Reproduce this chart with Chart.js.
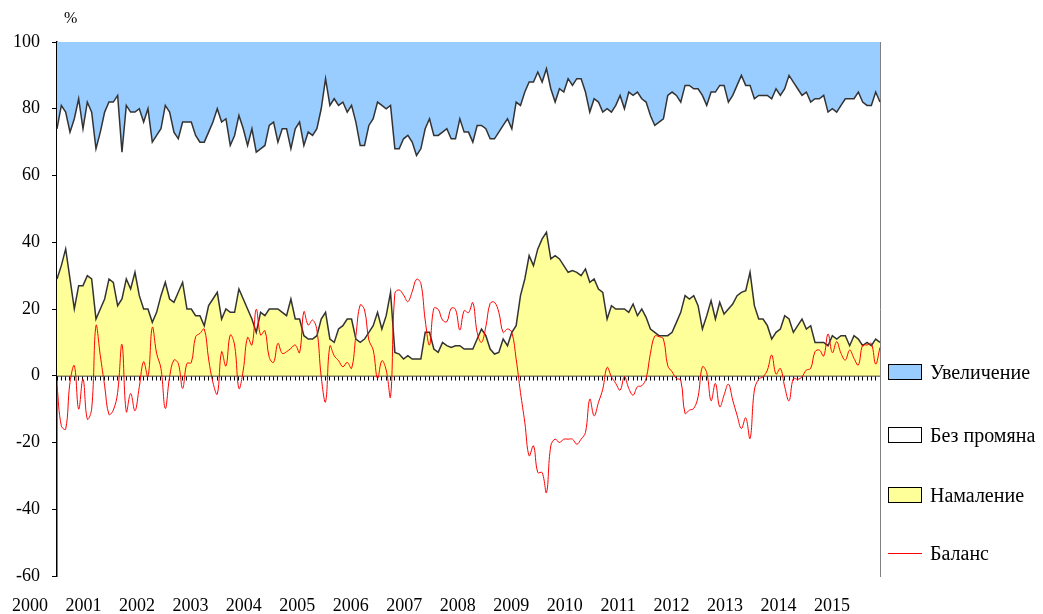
<!DOCTYPE html>
<html>
<head>
<meta charset="utf-8">
<script src="https://cdn.jsdelivr.net/npm/chart.js@4.4.0/dist/chart.umd.min.js"></script>
<style>
    body { margin: 0; background: #fff; }
    #wrap { position: relative; width: 1043px; height: 614px; }
    canvas { position: absolute; left: 0; top: 0; }
    .lbl { position: absolute; font-family: "Liberation Serif", "Times New Roman", serif; font-size: 20px; color: #000; line-height: 23px; white-space: nowrap; }
    .key { position: absolute; left: 888px; width: 34px; height: 16px; border: 1px solid #000; box-sizing: border-box; }
    .keyline { position: absolute; left: 888px; width: 34px; height: 0; border-top: 1px solid #ff0000; }
</style>
</head>
<body>
<div id="wrap">
    <canvas id="chart" width="1043" height="614"></canvas>
    <div class="lbl" style="left:64px; top:9px; font-size:16px; line-height:18px;">%</div>

    <div class="key" style="top:364px; background:#99CCFF;"></div>
    <div class="lbl" style="left:930px; top:361px;">Увеличение</div>

    <div class="key" style="top:427px; background:#FFFFFF;"></div>
    <div class="lbl" style="left:930px; top:424px;">Без промяна</div>

    <div class="key" style="top:487px; background:#FFFF99;"></div>
    <div class="lbl" style="left:930px; top:484px;">Намаление</div>

    <div class="keyline" style="top:553px;"></div>
    <div class="lbl" style="left:930px; top:542px;">Баланс</div>
</div>

<script>
// Години (етикети на оста X)
const years = ['2000', '2001', '2002', '2003', '2004', '2005', '2006', '2007',
               '2008', '2009', '2010', '2011', '2012', '2013', '2014', '2015'];

// Месечни данни, % от отговорите (януари 2000 - ноември 2015)
const decrease = [
    29, 33, 38, 29, 20, 27, 27, 30, 29, 17, 20, 23,
    29, 28, 21, 23, 29, 26, 31, 24, 20, 20, 16, 19,
    24, 28, 23, 22, 25, 28, 20, 20, 18, 18, 15, 21,
    23, 25, 17, 20, 19, 19, 26, 23, 20, 17, 13, 19,
    18, 20, 20, 20, 19, 18, 23, 17, 17, 12, 11, 11,
    12, 17, 19, 11, 10, 14, 15, 17, 17, 11, 10, 11,
    13, 15, 19, 14, 18, 25, 7, 6.5, 5, 6, 5, 5,
    5, 13, 13, 8, 7, 10, 9, 8.5, 9, 9, 8, 8,
    8, 11, 14, 12, 8, 6.5, 7, 11, 9, 13, 15, 24,
    29, 36, 33, 38, 41, 43, 35, 36, 35, 33, 31, 31.5,
    31, 30, 32, 28, 29, 26, 25, 17, 21, 20, 20, 20,
    19, 21.5, 18, 20, 17.5, 14, 13, 12, 12, 12, 13, 16,
    19, 24, 23, 24, 21, 14, 18, 22.5, 17, 22, 18.5, 20,
    21.5, 24, 25, 25.5, 31, 21, 17, 17, 15, 11, 13, 14,
    18, 17, 13, 15, 17, 14, 15, 10, 10, 10, 9, 12,
    11, 12, 12, 9, 12, 11, 9, 10, 9, 11, 10
];

const unchanged = [
    45, 48, 41, 44, 57, 56, 47, 52, 50, 51, 53, 56,
    53, 54, 63, 44, 52, 53, 48, 56, 56, 60, 54, 53,
    50, 53, 56, 51, 46, 48, 56, 56, 54, 52, 55, 52,
    53, 55, 59, 57, 50, 53, 52, 51, 49, 57, 54, 49,
    51, 55, 56, 50, 55, 56, 45, 57, 59, 57, 62, 61,
    62, 63, 70, 70, 73, 67, 67, 62, 64, 65, 59, 58,
    62, 62, 63, 67, 62, 56, 61, 61.5, 66, 66, 65, 61,
    63, 61, 64, 64, 65, 63, 65, 62.5, 62, 68, 65, 65,
    62, 64, 61, 62, 63, 64.5, 66, 64, 68, 61, 67, 57,
    56, 52, 55, 53, 47, 49, 51, 46, 51, 52, 58, 55.5,
    58, 59, 53, 51, 54, 56, 54, 63, 58, 61, 64, 60,
    66, 62.5, 67, 63, 64.5, 64, 62, 64, 65, 72, 72, 68,
    63, 63, 64, 62, 65, 70, 63, 62.5, 68, 65, 68.5, 62,
    62.5, 63, 65, 61.5, 56, 62, 67, 67, 69, 72, 73, 70,
    68, 73, 75, 71, 67, 71, 67, 73, 73, 74, 70, 68,
    68, 69, 71, 74, 71, 74, 73, 71, 72, 74, 72
];

const increase = [
    26, 19, 21, 27, 23, 17, 26, 18, 21, 32, 27, 21,
    18, 18, 16, 33, 19, 21, 21, 20, 24, 20, 30, 28,
    26, 19, 21, 27, 29, 24, 24, 24, 28, 30, 30, 27,
    24, 20, 24, 23, 31, 28, 22, 26, 31, 26, 33, 32,
    31, 25, 24, 30, 26, 26, 32, 26, 24, 31, 27, 28,
    26, 20, 11, 19, 17, 19, 18, 21, 19, 24, 31, 31,
    25, 23, 18, 19, 20, 19, 32, 32, 29, 28, 30, 34,
    32, 26, 23, 28, 28, 27, 26, 29, 29, 23, 27, 27,
    30, 25, 25, 26, 29, 29, 27, 25, 23, 26, 18, 19,
    15, 12, 12, 9, 12, 8, 14, 18, 14, 15, 11, 13,
    11, 11, 15, 21, 17, 18, 21, 20, 21, 19, 16, 20,
    15, 16, 15, 17, 18, 22, 25, 24, 23, 16, 15, 16,
    18, 13, 13, 14, 14, 16, 19, 15, 15, 13, 13, 18,
    16, 13, 10, 13, 13, 17, 16, 16, 16, 17, 14, 16,
    14, 10, 12, 14, 16, 15, 18, 17, 17, 16, 21, 20,
    21, 19, 17, 17, 17, 15, 18, 19, 19, 15, 18
];

const balance = [
    -3, -15, -16, -2, 3, -10, -1, -13, -10, 15, 6, -3,
    -11.6, -10.3, -5, 9.4, -10.8, -5.3, -10.5, -3.3, 4.2, -0.3, 14.5, 6.7,
    2.2, -9.8, -0.3, 4.7, 3.7, -3.8, 3.7, 3.9, 11.7, 12.7, 14, 5,
    -2, -5.5, 7.2, 2.9, 12.2, 9.2, -3.8, 1.7, 11.5, 9.2, 19.9, 12.2,
    13.5, 5.5, 4, 9.7, 6.7, 7.2, 8.2, 9.2, 6.9, 19.2, 15.2, 16.7,
    13.7, -0.3, -7.8, 8.9, 6, 4.5, 2.7, 4, 2.2, 12, 21.2, 19.7,
    10.7, 7.7, -0.8, 4.5, 1.7, -6.3, 24.7, 25.7, 24.2, 22.2, 25.2, 28.9,
    27.7, 16.7, 9.2, 20.2, 19.9, 16.7, 16.2, 20.2, 19.9, 13.7, 19.5, 18.9,
    21.9, 13, 10, 14.7, 21.7, 22, 19, 13, 14, 13, 5, -5,
    -14, -24, -21, -29, -29, -35, -21, -19, -20, -19, -19, -19,
    -20.5, -19, -17, -7, -12, -8, -4, 2.5, -0.3, -2.3, -4.3, -0.3,
    -3.8, -5.8, -3.3, -3, -0.8, 6.7, 11.9, 11.7, 11, 3, 1.2, -0.8,
    -1.3, -11.3, -10.3, -9.8, -6.3, 2.7, 0.9, -7.5, -2.3, -9.3, -5.8, -2.5,
    -7.3, -11.8, -15.8, -12.6, -18.8, -4.3, -1, -0.3, 1.7, 6.2, 0.5, 2.2,
    -3.3, -7.5, -0.8, -1.1, -0.3, 1.7, 2.2, 7.2, 7.7, 5.9, 12.5, 6.9,
    10.2, 6.7, 4.7, 7.7, 5.2, 3.2, 9.2, 9.2, 9.7, 3.5, 8.5
];

// Месеци - категории на оста
const months = decrease.map((_, i) => years[Math.floor(i / 12)] + '-' + (i % 12 + 1));

const fontFamily = '"Liberation Serif", "Times New Roman", serif';

const ctx = document.getElementById('chart').getContext('2d');
new Chart(ctx, {
    type: 'line',
    data: {
        labels: months,
        datasets: [
            {
                label: 'Намаление',
                data: decrease,
                stack: 'a',
                fill: 'origin',
                backgroundColor: '#FFFF99',
                borderColor: '#333333',
                borderWidth: 1.5,
                pointRadius: 0,
                tension: 0
            },
            {
                label: 'Без промяна',
                data: unchanged,
                stack: 'a',
                fill: '-1',
                backgroundColor: '#FFFFFF',
                borderColor: '#333333',
                borderWidth: 1.5,
                pointRadius: 0,
                tension: 0
            },
            {
                label: 'Увеличение',
                data: increase,
                stack: 'a',
                fill: '-1',
                backgroundColor: '#99CCFF',
                borderColor: 'rgba(0,0,0,0)',
                borderWidth: 0,
                pointRadius: 0,
                tension: 0
            },
            {
                label: 'Баланс',
                data: balance,
                stack: 'b',
                fill: false,
                borderColor: '#FF0000',
                borderWidth: 1,
                pointRadius: 0,
                tension: 0.4,
                order: -1
            }
        ]
    },
    options: {
        responsive: false,
        animation: false,
        layout: { padding: { left: 0, right: 163, top: 42, bottom: 0 } },
        plugins: {
            legend: { display: false },
            tooltip: { enabled: false }
        },
        scales: {
            x: {
                type: 'category',
                position: { y: 0 },
                offset: false,
                z: 2,
                grid: { drawOnChartArea: false, tickLength: 4, color: '#000', lineWidth: 1 },
                border: { color: '#000', width: 1.5 },
                ticks: { display: false, autoSkip: false }
            },
            xYears: {
                type: 'linear',
                position: 'bottom',
                // етикетите на годините са с по-голяма стъпка от месечната ос
                min: 0.505,
                max: 15.898,
                grid: { display: false, drawTicks: false },
                border: { display: false },
                afterBuildTicks: function(scale) {
                    scale.ticks = years.map((y, k) => ({ value: k }));
                },
                afterFit: function(scale) {
                    scale.height = 38;
                    scale.paddingLeft = 0;
                    scale.paddingRight = 0;
                },
                ticks: {
                    padding: 19,
                    color: '#000',
                    font: { family: fontFamily, size: 18 },
                    maxRotation: 0,
                    autoSkip: false,
                    callback: function(value) { return years[value]; }
                }
            },
            y: {
                stacked: true,
                min: -60,
                max: 100,
                afterFit: function(scale) { scale.width = 57; },
                grid: { drawOnChartArea: false, tickLength: 5, color: '#000' },
                border: { color: '#000', width: 1.5 },
                ticks: {
                    stepSize: 20,
                    padding: 12,
                    color: '#000',
                    font: { family: fontFamily, size: 18 }
                }
            },
            yRight: {
                position: 'right',
                min: -60,
                max: 100,
                afterFit: function(scale) { scale.width = 0; },
                grid: { display: false, drawTicks: false },
                border: { color: '#808080', width: 1 },
                ticks: { display: false }
            }
        }
    }
});
</script>
</body>
</html>
